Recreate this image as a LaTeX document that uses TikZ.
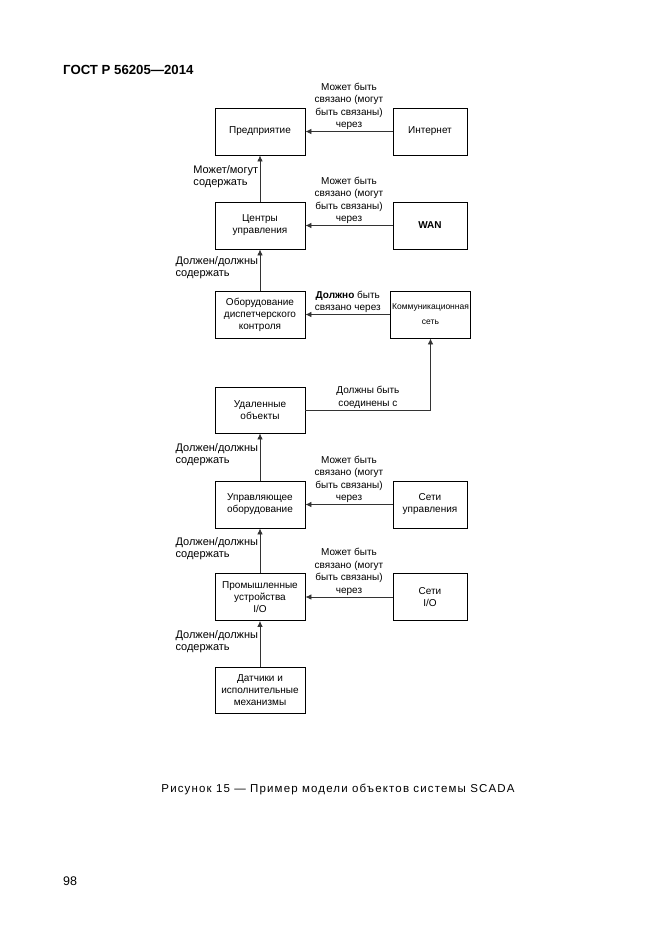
\documentclass[tikz,border=0pt]{standalone}
\usepackage{fontspec}
\setmainfont{Liberation Sans}
\usetikzlibrary{arrows.meta}
\tikzstyle{block} = [rectangle, draw=black, line width=0.8pt, minimum width=90pt, minimum height=47pt,
inner sep=1pt, text centered, align=center, font=\fontsize{10}{12}\selectfont]
\tikzstyle{netblock} = [block, minimum width=74pt]
\tikzstyle{note} = [font=\fontsize{10}{12.5}\selectfont, inner sep=1.5pt]
\tikzstyle{sidenote} = [font=\fontsize{11}{12}\selectfont, inner sep=1.5pt, align=left]
\tikzstyle{arrow} = [draw=black!80, line width=0.8pt, ->, >={Latex[length=6pt,width=5.5pt]}]

\begin{document}
\begin{tikzpicture}[x=1pt, y=-1pt, node distance=94pt]
\useasboundingbox (0,0) rectangle (661,935);

% ------------------------- page -------------------------
\node(head)[anchor=west, inner sep=0pt, font=\fontsize{13.2}{14}\selectfont\bfseries] at (63,70) {ГОСТ Р 56205—2014};
\node(caption)[inner sep=0pt, font=\fontsize{11.5}{13}\selectfont\addfontfeature{LetterSpace=10}] at (338,789) {Рисунок 15 — Пример модели объектов системы SCADA};
\node(page)[anchor=west, inner sep=0pt, font=\fontsize{12.5}{14}\selectfont] at (63,881) {98};

% ------------------------- nodes -------------------------
% ----- level: enterprise
\node(ent)[block] at (260,131.5) {Предприятие};
\node(inet)[netblock, right of=ent, xshift=76pt]{Интернет};
% ----- level: control centres
\node(cc)[block, below of=ent]{Центры\\управления};
\node(wan)[netblock, right of=cc, xshift=76pt]{\textbf{WAN}};
% ----- level: supervisory equipment
\node(scada)[block, below of=cc, yshift=5pt]{Оборудование\\диспетчерского\\контроля};
\node(comm)[block, minimum width=80pt, right of=scada, xshift=76.5pt, font=\fontsize{8.5}{15}\selectfont]{Коммуникационная\\сеть};
% ----- level: remote sites
\node(remote)[block, below of=scada, yshift=-1.5pt, minimum height=46pt]{Удаленные\\объекты};
% ----- level: control equipment
\node(ctrl)[block, below of=remote, yshift=-0.5pt]{Управляющее\\оборудование};
\node(ctrlnet)[netblock, right of=ctrl, xshift=76pt]{Сети\\управления};
% ----- level: I/O devices
\node(iodev)[block, below of=ctrl, yshift=1.5pt]{Промышленные\\устройства\\I/O};
\node(ionet)[netblock, right of=iodev, xshift=76pt]{Сети\\I/O};
% ----- level: sensors
\node(sens)[block, below of=iodev, yshift=1pt, minimum height=46pt]{Датчики и\\исполнительные\\механизмы};

% ------------------------- connections -------------------------
\draw[arrow](inet)--node[note, above, align=center]{Может быть\\связано (могут\\быть связаны)\\через}(ent);
\draw[arrow](cc)--node[sidenote, pos=0.55, left]{Может/могут\\содержать}(ent);
\draw[arrow](wan)--node[note, above, align=center]{Может быть\\связано (могут\\быть связаны)\\через}(cc);
\draw[arrow](scada)--node[sidenote, pos=0.55, left]{Должен/должны\\содержать}(cc);
\draw[arrow](comm)--node[note, above, align=center]{\textbf{Должно} быть\\связано через}(scada);
\draw[arrow](remote)-|node[note, pos=0.25, above, align=center]{Должны быть\\соединены с}(comm);
\draw[arrow](ctrl)--node[sidenote, pos=0.55, left]{Должен/должны\\содержать}(remote);
\draw[arrow](ctrlnet)--node[note, above, align=center]{Может быть\\связано (могут\\быть связаны)\\через}(ctrl);
\draw[arrow](iodev)--node[sidenote, pos=0.55, left]{Должен/должны\\содержать}(ctrl);
\draw[arrow](ionet)--node[note, above, align=center]{Может быть\\связано (могут\\быть связаны)\\через}(iodev);
\draw[arrow](sens)--node[sidenote, pos=0.55, left]{Должен/должны\\содержать}(iodev);
\end{tikzpicture}
\end{document}
